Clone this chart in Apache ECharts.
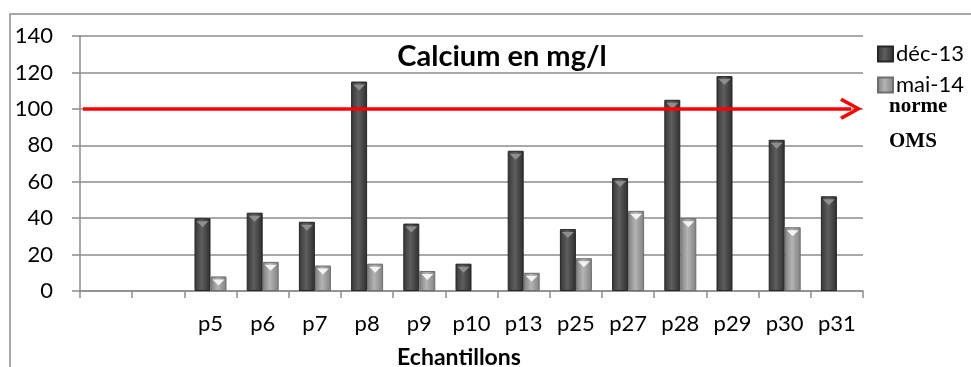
<!DOCTYPE html>
<html><head><meta charset="utf-8">
<script src="https://cdn.jsdelivr.net/npm/echarts@6/dist/echarts.min.js"></script>
<style>html,body{margin:0;padding:0;background:#fff}#c{width:971px;height:367px}</style>
</head><body><div id="c"></div>
<script>
const categories = ['', '', 'p5','p6','p7','p8','p9','p10','p13','p25','p27','p28','p29','p30','p31'];
const dec13 = [null,null,40,43,38,115,37,15,77,34,62,105,118,83,52];
const mai14 = [null,null,8,16,14,15,11,null,10,18,44,40,null,35,null];
const yTicks = [0,20,40,60,80,100,120,140];
const normeOMS = 100;

const chart = echarts.init(document.getElementById('c'));
const F = 'Lato, "Open Sans", sans-serif';
function grad(a,b,c){return new echarts.graphic.LinearGradient(0,0,1,0,[{offset:0,color:a},{offset:0.45,color:b},{offset:1,color:c}]);}
const darkFill = grad('#363636','#5e5e5e','#2e2e2e');
const lightFill = grad('#7e7e7e','#b4b4b4','#808080');
chart.setOption({
  animation:false,
  title:[
    {text:'Calcium en mg/l', left:497, top:37, textAlign:'center', textStyle:{fontFamily:F,fontWeight:'bold',fontSize:29,color:'#000'}},
    {text:'Echantillons', left:454, top:341, textAlign:'center', textStyle:{fontFamily:F,fontWeight:'bold',fontSize:23,color:'#000'}}
  ],
  legend:{data:['déc-13','mai-14'], orient:'vertical', left:872, top:38, itemWidth:15, itemHeight:15, itemGap:9,
    textStyle:{fontFamily:F,fontSize:22,color:'#000', padding:[0,0,0,-2]}, icon:'rect'},
  grid:{left:80, right:108, top:36, bottom:76, containLabel:false},
  xAxis:{type:'category', data:categories,
    axisLine:{lineStyle:{color:'#8c8c8c',width:1.5}},
    axisTick:{show:true, length:7, lineStyle:{color:'#8c8c8c',width:1.5}},
    axisLabel:{fontFamily:F,fontSize:22,color:'#000',margin:22,interval:0}},
  yAxis:{type:'value', min:0, max:140, interval:20,
    axisLine:{show:true,lineStyle:{color:'#8c8c8c',width:1.5}},
    axisTick:{show:true,inside:false,length:8,lineStyle:{color:'#8c8c8c',width:1.5}},
    splitLine:{lineStyle:{color:'#8c8c8c',width:1.5}},
    axisLabel:{fontFamily:F,fontSize:22,color:'#000',margin:27,
      formatter:v=>yTicks.includes(v)?String(v):''}},
  graphic:[
    {type:'rect', shape:{x:10,y:14,width:980,height:400}, style:{fill:'none',stroke:'#8c8c8c',lineWidth:1.5}, silent:true},
    {type:'text', left:889, top:96, style:{text:'norme', font:'bold 21px "Liberation Serif", serif', fill:'#000'}},
    {type:'text', left:889, top:131, style:{text:'OMS', font:'bold 21px "Liberation Serif", serif', fill:'#000'}}
  ],
  series:[
    {name:'déc-13', type:'bar', data:dec13, barWidth:16, barGap:'0%', itemStyle:{color:darkFill, borderColor:'#262626', borderWidth:1},
      markLine:{silent:true, symbol:['none','path://M11,0 L22,20 L19,22 L11,7 L3,22 L0,20 Z'], symbolSize:[22,22],
        lineStyle:{color:'#ff0000', width:3.5, type:'solid'}, label:{show:false},
        data:[[{x:83, yAxis:normeOMS},{x:851, yAxis:normeOMS}]]}},
    {name:'mai-14', type:'bar', data:mai14, barWidth:16, barGap:'0%', itemStyle:{color:lightFill, borderColor:'#6e6e6e', borderWidth:1}},
    {name:'capD', type:'pictorialBar', data:dec13, symbol:'triangle', symbolRotate:180, symbolSize:[12,6], symbolPosition:'end', symbolOffset:[0,'50%'],
      barWidth:16, barGap:'0%', itemStyle:{color:'#8e8e8e'}, z:3},
    {name:'capM', type:'pictorialBar', data:mai14, symbol:'triangle', symbolRotate:180, symbolSize:[12,6], symbolPosition:'end', symbolOffset:[0,'50%'],
      barWidth:16, barGap:'0%', itemStyle:{color:'#f4f4f4'}, z:3}
  ]
});
</script></body></html>
